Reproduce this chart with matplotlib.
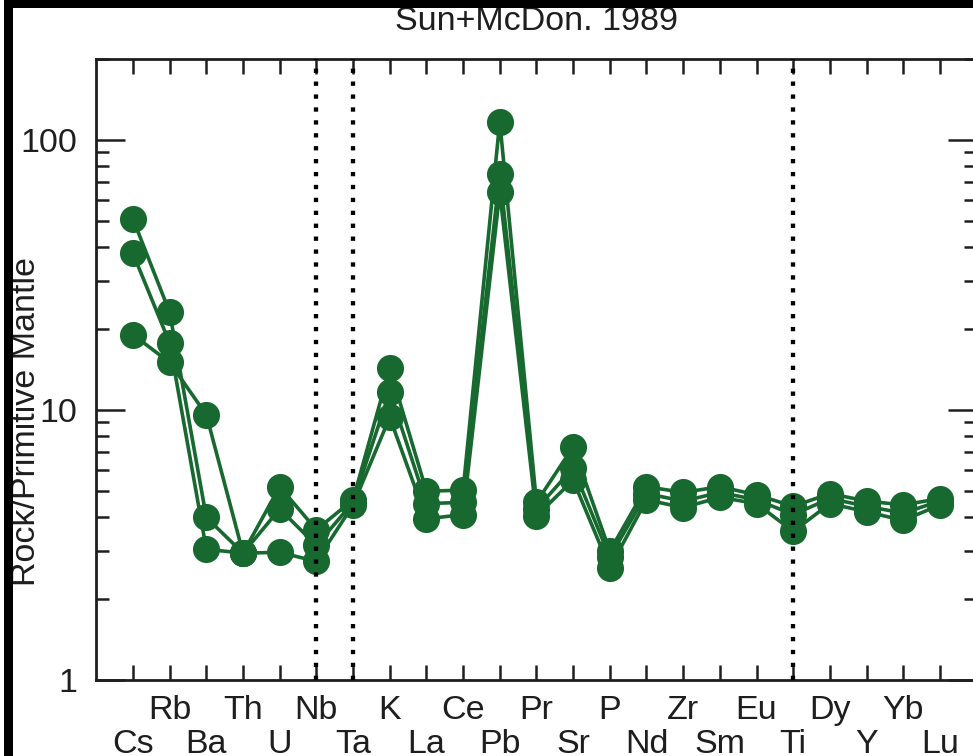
import matplotlib
matplotlib.use("Agg")
import matplotlib.pyplot as plt
from matplotlib.patches import Rectangle

plt.rcParams['font.family'] = ['Liberation Sans', 'DejaVu Sans']

# Element order of the spider diagram
elements = ["Cs", "Rb", "Ba", "Th", "U", "Nb", "Ta", "K", "La", "Ce", "Pb", "Pr",
            "Sr", "P", "Nd", "Zr", "Sm", "Eu", "Ti", "Dy", "Y", "Yb", "Lu"]

# Primitive-mantle normalised concentrations of three samples
sample_1 = [51, 23, 4.0, 2.95, 5.2, 3.6, 4.65, 14.3, 5.0, 5.05, 117, 4.55,
            7.3, 3.0, 5.2, 4.95, 5.2, 4.85, 4.4, 4.9, 4.6, 4.45, 4.7]
sample_2 = [38, 17.7, 3.05, 2.95, 2.97, 2.75, 4.45, 9.4, 3.95, 4.1, 64, 4.05,
            5.5, 2.6, 4.65, 4.35, 4.75, 4.5, 3.55, 4.5, 4.2, 3.9, 4.45]
sample_3 = [19, 15, 9.6, 2.95, 4.3, 3.15, 4.55, 11.7, 4.5, 4.55, 75, 4.3,
            6.1, 2.85, 4.9, 4.6, 4.95, 4.65, 4.1, 4.7, 4.4, 4.15, 4.6]

# Elements marked with dotted separators
separators = ["Nb", "Ta", "Ti"]

title = "Sun+McDon. 1989"
ylabel = "Rock/Primitive Mantle"

green = "#18692f"
ink = "#1e1e1e"
fs = 24.5

W, H = 973, 756
fig = plt.figure(figsize=(W / 100, H / 100), dpi=100)
fig.patch.set_facecolor("white")

x0, x1 = 96.3, 976.6
y_top, y_bot = 58.7, 680.0
ax = fig.add_axes([x0 / W, 1 - y_bot / H, (x1 - x0) / W, (y_bot - y_top) / H])

xs = list(range(1, len(elements) + 1))
for vals in (sample_2, sample_3, sample_1):
    ax.plot(xs, vals, color=green, lw=2.6, marker="o", ms=19.5,
            mfc=green, mec=green, mew=0, zorder=3)

for el in separators:
    ax.axvline(elements.index(el) + 1, color="black", lw=3.1,
               ls=(0, (1.0, 2.0)), zorder=4)

ax.set_yscale("log")
ax.set_ylim(1, 200)
ax.set_xlim(0, len(elements) + 1)

ax.set_yticks([1, 10, 100])
ax.set_yticklabels(["1", "10", "100"])
ax.tick_params(axis="y", which="major", direction="in", length=21, width=1.8,
               left=True, right=True, labelsize=fs, pad=14, colors=ink)
ax.tick_params(axis="y", which="minor", direction="in", length=9.5, width=1.8,
               left=True, right=True, colors=ink)

# Upper label row on major ticks, lower row on minor ticks
upper = [(x, n) for x, n in zip(xs, elements) if x % 2 == 0]
lower = [(x, n) for x, n in zip(xs, elements) if x % 2 == 1]
ax.set_xticks([x for x, _ in upper], [n for _, n in upper])
ax.set_xticks([x for x, _ in lower], [n for _, n in lower], minor=True)
ax.tick_params(axis="x", which="major", direction="in", length=11, width=1.8,
               top=True, bottom=True, labelsize=fs, pad=10.5, colors=ink)
ax.tick_params(axis="x", which="minor", direction="in", length=11, width=1.8,
               top=True, bottom=True, labelsize=fs, pad=35.5, colors=ink)

for side in ("left", "bottom", "top", "right"):
    ax.spines[side].set_linewidth(2.0)
    ax.spines[side].set_color(ink)

fig.text((x0 + x1) / 2 / W, 1 - 22 / H, title, ha="center", va="center",
         fontsize=fs, color=ink)
fig.text(27 / W, 1 - 421 / H, ylabel, rotation=90, ha="center", va="center",
         fontsize=fs, color=ink)

# Dark frame strips along the top and left edges
fig.patches.append(Rectangle((4 / W, 1 - 8 / H), 1, 8 / H, transform=fig.transFigure,
                             facecolor="black", edgecolor="none", zorder=10))
fig.patches.append(Rectangle((4 / W, 0), 9 / W, 1, transform=fig.transFigure,
                             facecolor="black", edgecolor="none", zorder=10))

fig.savefig("out.png", dpi=100)
